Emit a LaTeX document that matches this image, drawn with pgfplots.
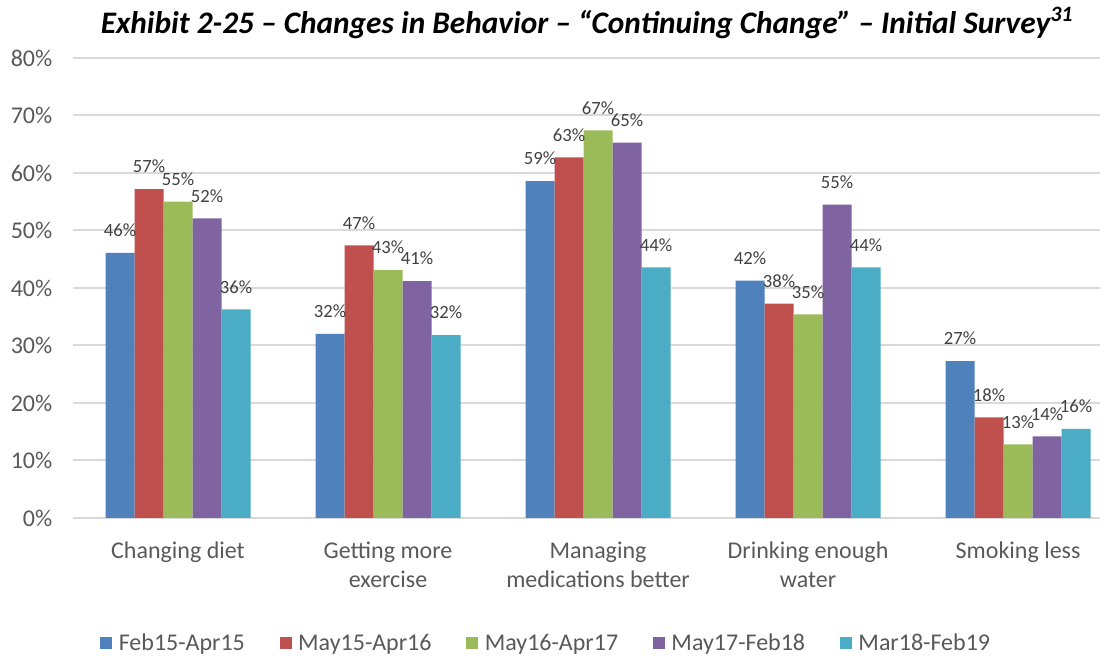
\documentclass[border=0pt]{standalone}
\usepackage{pgfplots}
\pgfplotsset{compat=1.18}
\usepackage{fontspec}
\setmainfont{Carlito}
\definecolor{cB}{HTML}{4F81BD}
\definecolor{cR}{HTML}{C0504D}
\definecolor{cG}{HTML}{9BBB59}
\definecolor{cP}{HTML}{8064A2}
\definecolor{cC}{HTML}{4BACC6}
\definecolor{txt}{HTML}{595959}
\definecolor{lbl}{HTML}{404040}
\definecolor{grd}{HTML}{D9D9D9}
\begin{document}
\begin{tikzpicture}
\useasboundingbox (-54.75pt,-103.5pt) rectangle (780.75pt,388.5pt);
\begin{axis}[
  at={(0,0)}, anchor=south west,
  scale only axis,
  width=770.25pt, height=345pt,
  ybar=0pt, bar width=21.75pt,
  xmin=-0.5, xmax=4.39,
  ymin=0, ymax=80,
  ytick={0,10,...,80},
  xtick={0,1,2,3,4},
  xticklabels={{Changing diet},{Getting more\\exercise},{Managing\\medications better},{Drinking enough\\water},{Smoking less}},
  xticklabel style={align=center, font=\fontsize{18pt}{22pt}\selectfont, text=txt, yshift=-10pt},
  yticklabel={\pgfmathprintnumber{\tick}\%},
  yticklabel style={font=\fontsize{18pt}{22pt}\selectfont, text=txt, xshift=-12pt},
  /pgf/number format/assume math mode=true,
  major tick style={draw=none},
  axis line style={draw=none},
  ymajorgrids, grid style={grd, line width=1.5pt},
  point meta=explicit,
  nodes near coords={\pgfmathprintnumber[fixed,precision=0]{\pgfplotspointmeta}\%},
  every node near coord/.append style={font=\fontsize{14pt}{16pt}\selectfont, text=lbl, anchor=south, yshift=8.5pt},
  legend columns=5,
  legend style={draw=none, at={(0.461,-0.272)}, anchor=center, font=\fontsize{18pt}{22pt}\selectfont, text=txt,
    /tikz/every odd column/.append style={column sep=3pt},
    /tikz/every even column/.append style={column sep=24pt}},
  legend image code/.code={\fill[#1] (0pt,-4.5pt) rectangle (9pt,4.5pt);},
  clip=false,
]
\addplot[fill=cB, draw=none] coordinates {(0,46.1)[46] (1,32.0)[32] (2,58.6)[59] (3,41.3)[42] (4,27.3)[27]};
\addplot[fill=cR, draw=none] coordinates {(0,57.2)[57] (1,47.4)[47] (2,62.7)[63] (3,37.3)[38] (4,17.5)[18]};
\addplot[fill=cG, draw=none] coordinates {(0,55.0)[55] (1,43.1)[43] (2,67.4)[67] (3,35.4)[35] (4,12.8)[13]};
\addplot[fill=cP, draw=none] coordinates {(0,52.1)[52] (1,41.2)[41] (2,65.3)[65] (3,54.5)[55] (4,14.2)[14]};
\addplot[fill=cC, draw=none] coordinates {(0,36.3)[36] (1,31.8)[32] (2,43.6)[44] (3,43.6)[44] (4,15.5)[16]};
\legend{Feb15-Apr15,May15-Apr16,May16-Apr17,May17-Feb18,Mar18-Feb19}
\end{axis}
\node[font=\fontsize{23.5pt}{27pt}\selectfont\bfseries\itshape, anchor=center] at (385.5pt,371pt)
  {Exhibit 2-25 – Changes in Behavior – “Continuing Change” – Initial Survey\textsuperscript{31}};
\end{tikzpicture}
\end{document}
